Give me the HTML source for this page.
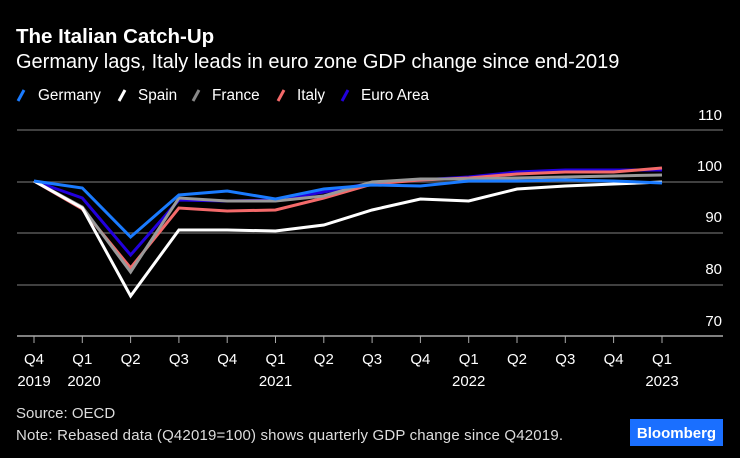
<!DOCTYPE html>
<html><head><meta charset="utf-8"><style>
html,body{margin:0;padding:0;background:#000;}
svg{display:block;font-family:"Liberation Sans",sans-serif;}
</style></head><body>
<svg width="740" height="458" viewBox="0 0 740 458" xmlns="http://www.w3.org/2000/svg">
<rect width="740" height="458" fill="#000"/>
<text x="16" y="43" fill="#fff" font-size="20.5" font-weight="bold">The Italian Catch-Up</text>
<text x="16" y="68" fill="#fff" font-size="20">Germany lags, Italy leads in euro zone GDP change since end-2019</text>
<g font-size="15.3" fill="#fff">
<line x1="18" y1="101" x2="24" y2="90" stroke="#1a7bff" stroke-width="3"/><text x="38" y="100">Germany</text>
<line x1="119" y1="101" x2="125" y2="90" stroke="#fff" stroke-width="3"/><text x="138" y="100">Spain</text>
<line x1="193" y1="101" x2="199" y2="90" stroke="#888" stroke-width="3"/><text x="212" y="100">France</text>
<line x1="278" y1="101" x2="284" y2="90" stroke="#f46a6a" stroke-width="3"/><text x="297" y="100">Italy</text>
<line x1="342" y1="101" x2="348" y2="90" stroke="#2200dd" stroke-width="3"/><text x="361" y="100">Euro Area</text>
</g>
<g stroke="#555" stroke-width="1.5">
<line x1="17" y1="130" x2="723" y2="130"/>
<line x1="17" y1="182" x2="723" y2="182"/>
<line x1="17" y1="233" x2="723" y2="233"/>
<line x1="17" y1="285" x2="723" y2="285"/>
</g>
<g fill="#fff" font-size="15" text-anchor="end">
<text x="722" y="120">110</text>
<text x="722" y="171">100</text>
<text x="722" y="222">90</text>
<text x="722" y="274">80</text>
<text x="722" y="326">70</text>
</g>
<line x1="17" y1="336" x2="723" y2="336" stroke="#aaa" stroke-width="1.5"/>
<g stroke="#aaa" stroke-width="1">
<line x1="34" y1="336" x2="34" y2="343"/><line x1="82.3" y1="336" x2="82.3" y2="343"/><line x1="130.6" y1="336" x2="130.6" y2="343"/><line x1="178.9" y1="336" x2="178.9" y2="343"/><line x1="227.2" y1="336" x2="227.2" y2="343"/><line x1="275.5" y1="336" x2="275.5" y2="343"/><line x1="323.8" y1="336" x2="323.8" y2="343"/><line x1="372.1" y1="336" x2="372.1" y2="343"/><line x1="420.4" y1="336" x2="420.4" y2="343"/><line x1="468.7" y1="336" x2="468.7" y2="343"/><line x1="517" y1="336" x2="517" y2="343"/><line x1="565.3" y1="336" x2="565.3" y2="343"/><line x1="613.6" y1="336" x2="613.6" y2="343"/><line x1="662" y1="336" x2="662" y2="343"/>
</g>
<g fill="#fff" font-size="15" text-anchor="middle">
<text x="34" y="364">Q4</text><text x="82.3" y="364">Q1</text><text x="130.6" y="364">Q2</text><text x="178.9" y="364">Q3</text><text x="227.2" y="364">Q4</text><text x="275.5" y="364">Q1</text><text x="323.8" y="364">Q2</text><text x="372.1" y="364">Q3</text><text x="420.4" y="364">Q4</text><text x="468.7" y="364">Q1</text><text x="517" y="364">Q2</text><text x="565.3" y="364">Q3</text><text x="613.6" y="364">Q4</text><text x="662" y="364">Q1</text>
<text x="34" y="386">2019</text><text x="84" y="386">2020</text><text x="275.5" y="386">2021</text><text x="468.7" y="386">2022</text><text x="662" y="386">2023</text>
</g>
<g fill="none" stroke-width="3" stroke-linejoin="miter">
<polyline stroke="#2200dd" points="34,181 82.3,198 130.6,255 178.9,200 227.2,201 275.5,200 323.8,192 372.1,183 420.4,180 468.7,177 517,172 565.3,170 613.6,170 662,170"/>
<polyline stroke="#f46a6a" points="34,181 82.3,209 130.6,268 178.9,208 227.2,211 275.5,210 323.8,198 372.1,184 420.4,180 468.7,178 517,174 565.3,172 613.6,172 662,168"/>
<polyline stroke="#999" points="34,181 82.3,207 130.6,272 178.9,198 227.2,201 275.5,201 323.8,196 372.1,182 420.4,179 468.7,179 517,178 565.3,177 613.6,176 662,175"/>
<polyline stroke="#fff" points="34,181 82.3,208 130.6,296 178.9,230 227.2,230 275.5,231 323.8,225 372.1,210 420.4,199 468.7,201 517,189 565.3,186 613.6,184 662,182"/>
<polyline stroke="#1a7bff" points="34,181 82.3,188 130.6,237 178.9,195 227.2,191 275.5,199 323.8,189 372.1,185 420.4,186 468.7,181 517,181 565.3,180 613.6,181 662,183"/>
</g>
<text x="16" y="418" fill="#ddd" font-size="15">Source: OECD</text>
<text x="16" y="440" fill="#ddd" font-size="15" textLength="547">Note: Rebased data (Q42019=100) shows quarterly GDP change since Q42019.</text>
<rect x="630" y="419" width="93" height="27" fill="#1a6fff"/>
<text x="676.5" y="438" fill="#fff" font-size="15" font-weight="bold" text-anchor="middle">Bloomberg</text>
</svg>
</body></html>
